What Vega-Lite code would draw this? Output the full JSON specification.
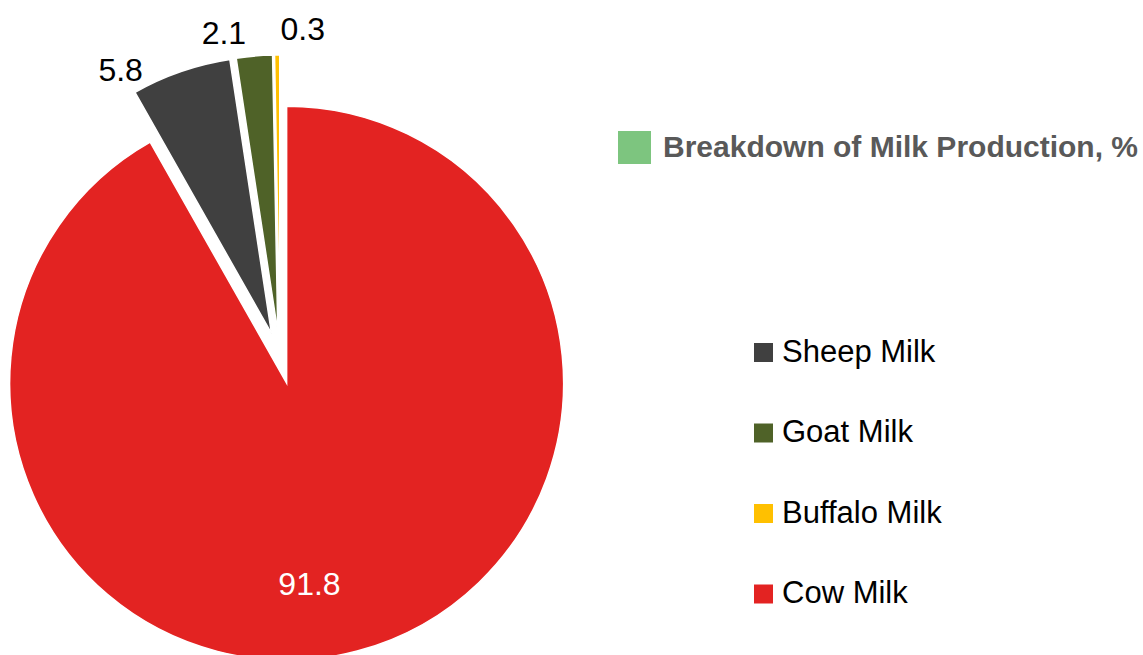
{
  "$schema": "https://vega.github.io/schema/vega-lite/v6.json",
  "width": 1143,
  "height": 655,
  "autosize": {"type": "none"},
  "padding": 0,
  "background": "white",
  "config": {"view": {"stroke": null}},
  "datasets": {
    "milk": [
      {"milk": "Cow Milk", "value": 91.8},
      {"milk": "Sheep Milk", "value": 5.8},
      {"milk": "Goat Milk", "value": 2.1},
      {"milk": "Buffalo Milk", "value": 0.3}
    ],
    "series": [
      {"series": "Breakdown of Milk Production, %"}
    ]
  },
  "layer": [
    {
      "data": {"name": "milk"},
      "transform": [
        {"stack": "value", "groupby": [], "sort": [{"field": "value", "order": "descending"}], "as": ["v0", "v1"]},
        {"calculate": "(datum.v0 + datum.v1) / 100 * PI", "as": "mid"},
        {"calculate": "0.094 * sin(datum.mid)", "as": "ox"},
        {"calculate": "0.094 * cos(datum.mid)", "as": "oy"}
      ],
      "mark": {"type": "arc", "radius": 277, "stroke": "white", "strokeWidth": 1.5},
      "encoding": {
        "theta": {"field": "v0", "type": "quantitative", "stack": null, "scale": {"domain": [0, 100]}},
        "theta2": {"field": "v1"},
        "x": {"field": "ox", "type": "quantitative", "scale": {"domain": [-1.0108, 3.1155], "nice": false, "zero": false}, "axis": null},
        "y": {"field": "oy", "type": "quantitative", "scale": {"domain": [-1.0722, 1.2924], "nice": false, "zero": false}, "axis": null},
        "color": {
          "field": "milk",
          "type": "nominal",
          "scale": {
            "domain": ["Sheep Milk", "Goat Milk", "Buffalo Milk", "Cow Milk"],
            "range": ["#404040", "#4F6228", "#FFC000", "#E32322"]
          },
          "legend": {
            "title": null,
            "orient": "none",
            "legendX": 748,
            "legendY": 337,
            "padding": 0,
            "symbolType": "square",
            "symbolSize": 361,
            "symbolStrokeWidth": 0,
            "symbolOpacity": 1,
            "labelFont": "Liberation Sans Narrow, Arial Narrow, Liberation Sans",
            "labelFontSize": 31,
            "labelColor": "black",
            "labelOffset": 3,
            "labelLimit": 0,
            "rowPadding": 48.5
          }
        }
      }
    },
    {
      "data": {"name": "milk"},
      "transform": [
        {"stack": "value", "groupby": [], "sort": [{"field": "value", "order": "descending"}], "as": ["v0", "v1"]},
        {"calculate": "(datum.v0 + datum.v1) / 100 * PI", "as": "mid"},
        {"calculate": "0.094 * sin(datum.mid)", "as": "ox"},
        {"calculate": "0.094 * cos(datum.mid)", "as": "oy"},
        {"calculate": "datum.value > 50 ? 0.145 : datum.milk == 'Sheep Milk' ? -0.188 : datum.milk == 'Goat Milk' ? -0.094 : 0.0855", "as": "shift"},
        {"calculate": "datum.value > 50 ? 0.734 : 1.094", "as": "lr"},
        {"calculate": "datum.ox + datum.lr * sin(datum.mid + datum.shift)", "as": "lx"},
        {"calculate": "datum.oy + datum.lr * cos(datum.mid + datum.shift)", "as": "ly"}
      ],
      "mark": {"type": "text", "font": "Liberation Sans Narrow, Arial Narrow, Liberation Sans", "fontSize": 32, "align": "center", "baseline": "middle"},
      "encoding": {
        "x": {"field": "lx", "type": "quantitative"},
        "y": {"field": "ly", "type": "quantitative"},
        "text": {"field": "value", "type": "quantitative", "format": ".1f"},
        "color": {"condition": {"test": "datum.value > 50", "value": "white"}, "value": "black"}
      }
    },
    {
      "data": {"name": "series"},
      "mark": {"type": "square", "size": 0, "opacity": 0},
      "encoding": {
        "fill": {
          "field": "series",
          "type": "nominal",
          "scale": {"range": ["#7DC57F"]},
          "legend": {
            "title": null,
            "orient": "none",
            "legendX": 618,
            "legendY": 131,
            "padding": 0,
            "symbolType": "square",
            "symbolSize": 1089,
            "symbolStrokeWidth": 0,
            "symbolOpacity": 1,
            "symbolFillColor": "#7DC57F",
            "labelFont": "Liberation Sans",
            "labelFontWeight": "bold",
            "labelFontSize": 30,
            "labelColor": "#595959",
            "labelOffset": 12,
            "labelLimit": 0
          }
        }
      }
    }
  ]
}
